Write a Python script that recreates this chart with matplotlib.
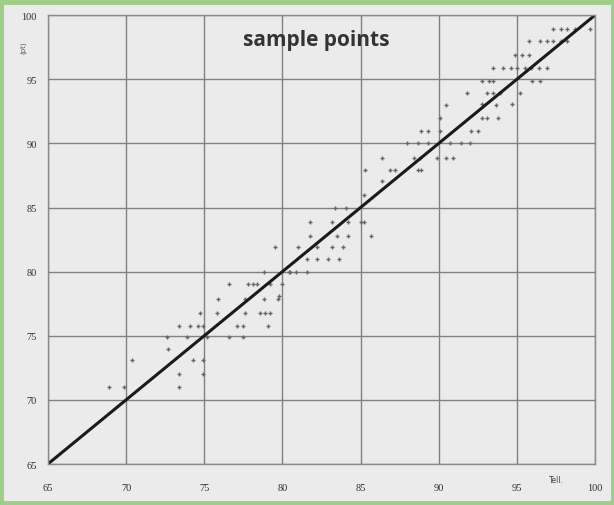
import matplotlib
matplotlib.use("Agg")
import matplotlib.pyplot as plt
from matplotlib.patches import Rectangle

# ── DATA ────────────────────────────────────────────────────────────────────
x_vals = [68.9, 69.9, 70.4, 72.6, 72.7, 73.4, 73.4, 73.4, 74.1, 74.6, 74.9,
          73.9, 74.3, 74.9, 74.9, 74.7, 75.2, 75.9, 75.8, 76.6, 76.6, 77.5,
          77.1, 77.5, 77.6, 77.6, 77.8, 78.1, 78.4, 78.6, 78.9, 79.2, 78.8,
          78.8, 79.1, 79.2, 80.0, 79.7, 80.5, 80.9, 81.6,
          85.2, 83.4, 84.1, 81.8, 83.2, 84.2, 85.0, 85.2, 81.8, 83.5, 84.2,
          85.7, 79.5, 81.0, 82.2, 83.2, 83.9, 81.6, 82.2, 82.9, 83.6, 80.4,
          79.8,
          90.5, 90.1, 93.1, 93.8, 93.7, 88.9, 89.3, 90.1, 92.1, 92.5, 88.0,
          88.7, 89.3, 90.7, 91.4, 92.0, 86.4, 88.4, 88.8, 89.9, 90.5, 90.9,
          85.3, 86.9, 87.2, 88.7, 88.9, 86.4,
          97.3, 97.8, 98.2, 98.7, 99.7, 95.8, 96.5, 96.9, 97.3, 97.8, 98.2,
          94.9, 95.3, 95.8, 93.5, 94.1, 94.6, 95.0, 95.5, 95.9, 96.4, 96.9,
          92.8, 93.2, 93.5, 96.0, 96.5, 91.8, 93.1, 93.5, 93.9, 95.2, 92.8,
          94.7, 92.8]
y_vals = [71.0, 71.0, 73.1, 74.9, 74.0, 72.0, 71.0, 75.8, 75.8, 75.8, 75.8,
          74.9, 73.1, 73.1, 72.0, 76.8, 74.9, 77.9, 76.8, 79.0, 74.9, 74.9,
          75.8, 75.8, 76.8, 77.9, 79.0, 79.0, 79.0, 76.8, 76.8, 76.8, 80.0,
          77.9, 75.8, 79.0, 79.0, 77.9, 80.0, 80.0, 80.0,
          86.0, 85.0, 85.0, 83.9, 83.9, 83.9, 83.9, 83.9, 82.8, 82.8, 82.8,
          82.8, 81.9, 81.9, 81.9, 81.9, 81.9, 81.0, 81.0, 81.0, 81.0, 80.0,
          78.1,
          93.0, 92.0, 92.0, 92.0, 93.0, 91.0, 91.0, 91.0, 91.0, 91.0, 90.0,
          90.0, 90.0, 90.0, 90.0, 90.0, 88.9, 88.9, 88.9, 88.9, 88.9, 88.9,
          87.9, 87.9, 87.9, 87.9, 87.9, 87.1,
          98.9, 98.9, 98.9, 98.9, 98.9, 98.0, 98.0, 98.0, 98.0, 98.0, 98.0,
          96.9, 96.9, 96.9, 95.9, 95.9, 95.9, 95.9, 95.9, 95.9, 95.9, 95.9,
          94.9, 94.9, 94.9, 94.9, 94.9, 93.9, 93.9, 93.9, 93.9, 93.9, 93.1,
          93.1, 92.0]
line_x = [65, 100]
line_y = [65, 100]
ticks = [65, 70, 75, 80, 85, 90, 95, 100]

# ── FIGURE ──────────────────────────────────────────────────────────────────
fig = plt.figure(figsize=(6.14, 5.06), dpi=100, facecolor="#ebebeb")
fig.patches.append(Rectangle((0.002, 0.003), 0.996, 0.992, transform=fig.transFigure,
                             fill=False, edgecolor="#9ccf88", lw=3.5))

ax = fig.add_axes([0.078, 0.081, 0.891, 0.887])
ax.set_facecolor("#ebebeb")
ax.set_xlim(65, 100)
ax.set_ylim(65, 100)
ax.set_xticks(ticks)
ax.set_yticks(ticks)
ax.grid(True, color="#808080", lw=1.0)
ax.set_axisbelow(True)
for sp in ax.spines.values():
    sp.set_color("#8a8a8a")
    sp.set_linewidth(1.0)
ax.tick_params(length=0, labelsize=7.5, colors="#2e2e2e", pad=14)
ax.tick_params(axis="y", pad=8)
for lab in ax.get_xticklabels() + ax.get_yticklabels():
    lab.set_family("Liberation Serif")

ax.plot(x_vals, y_vals, ls="none", marker="+", ms=3.2, mew=1.0, color="#666666")
ax.plot(line_x, line_y, color="#1a1a1a", lw=2.2)

ax.text(0.49, 0.945, "sample points", transform=ax.transAxes, ha="center", va="center",
        fontsize=15, fontweight="bold", color="#333333", family="Open Sans")
ax.text(-0.045, 0.93, "(pt)", transform=ax.transAxes, rotation=90, ha="center",
        va="center", fontsize=5, color="#555555")
ax.text(0.93, -0.035, "Tell.", transform=ax.transAxes, ha="center", va="center",
        fontsize=5.5, color="#444444")

plt.savefig("out.png", dpi=100, facecolor=fig.get_facecolor())
